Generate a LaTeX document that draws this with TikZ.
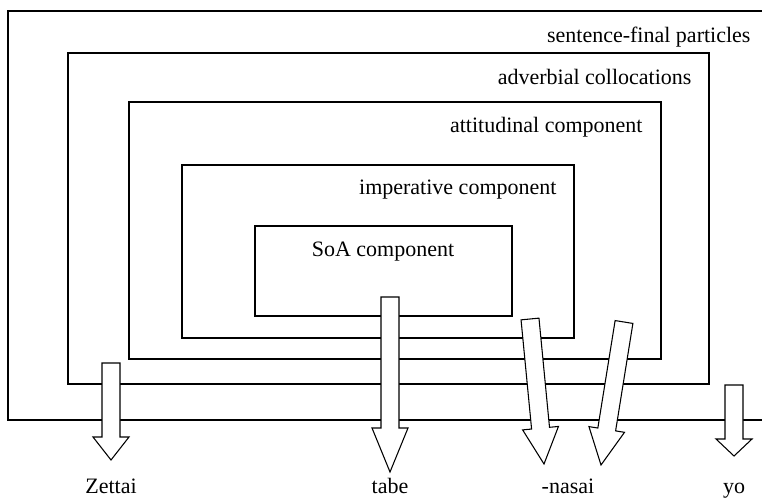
\documentclass[tikz,border=0pt]{standalone}
\usepackage{fontspec}
\setmainfont{Liberation Serif}
\usetikzlibrary{calc}

% hollow block arrow from #1 (top of shaft) to #2 (tip), head length #3
\newcommand{\fatarrow}[3]{%
  \coordinate (#1b) at ($(#2)!#3!(#1)$);
  \draw[fat] ($(#1)!6.75pt!90:(#2)$) -- ($(#1b)!6.75pt!90:(#2)$)
    -- ($(#1b)!13.5pt!90:(#2)$) -- (#2) -- ($(#1b)!13.5pt!-90:(#2)$)
    -- ($(#1b)!6.75pt!-90:(#2)$) -- ($(#1)!6.75pt!-90:(#2)$) -- cycle;}

\begin{document}
\begin{tikzpicture}[x=0.75pt,y=-0.75pt,line width=0.8pt,
    lbl/.style={font=\fontsize{16.5}{20}\selectfont,inner sep=0pt},
    fat/.style={draw,fill=white,line join=miter}]

    \useasboundingbox (0,0) rectangle (762,498);

    % nested boxes
    \draw (762,11) -- (8,11) -- (8,420) -- (762,420);
    \draw (68,53) rectangle (709,384);
    \draw (129,102) rectangle (661,359);
    \draw (182,165) rectangle (574,338);
    \draw (255,226) rectangle (512,316);

    \node[lbl,anchor=base east] (sfp) at (751,43) {sentence-final particles};
    \node[lbl,anchor=base east] (adv) at (692,85) {adverbial collocations};
    \node[lbl,anchor=base east] (att) at (643,133) {attitudinal component};
    \node[lbl,anchor=base east] (imp) at (557,195) {imperative component};
    \node[lbl,anchor=base] (soa) at (383,257) {SoA component};

    % words below
    \node[lbl,anchor=base] (zettai) at (111,493) {Zettai};
    \node[lbl,anchor=base] (tabe) at (390,493) {tabe};
    \node[lbl,anchor=base] (nasai) at (568,493) {-nasai};
    \node[lbl,anchor=base] (yo) at (734,493) {yo};

    \coordinate (zs) at (111,363); \coordinate (zt) at (111,460);
    \coordinate (ts) at (390,297); \coordinate (tt) at (390,472);
    \coordinate (ns) at (530,319); \coordinate (nt) at (544,464);
    \coordinate (ms) at (624,322); \coordinate (mt) at (601,465);
    \coordinate (ys) at (734,385); \coordinate (yt) at (734,456);

    \fatarrow{zs}{zt}{17.25pt}
    \fatarrow{ts}{tt}{33pt}
    \fatarrow{ns}{nt}{27pt}
    \fatarrow{ms}{mt}{27pt}
    \fatarrow{ys}{yt}{12.75pt}

\end{tikzpicture}
\end{document}
